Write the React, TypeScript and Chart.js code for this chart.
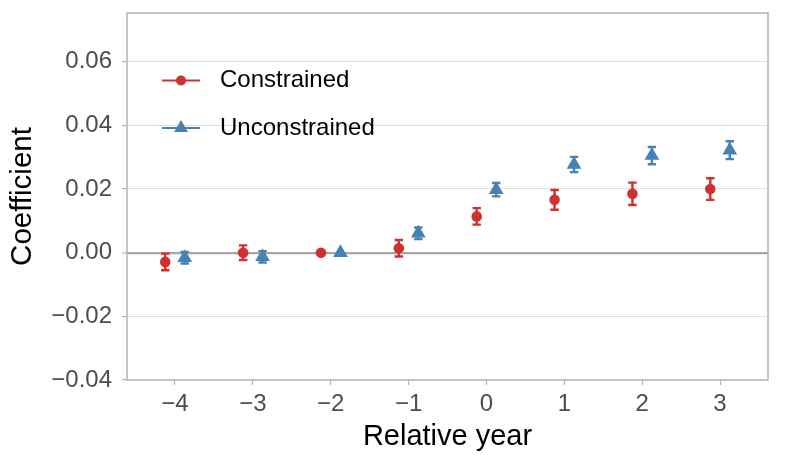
import { useEffect, useRef } from 'react';
import { Chart, registerables } from 'chart.js';

Chart.register(...registerables);

// ---- data ----
const relativeYears = [-4, -3, -2, -1, 0, 1, 2, 3];
const constrainedCoef = [-0.0029, 0.0, 0.0, 0.0014, 0.0114, 0.0166, 0.0185, 0.02];
const constrainedErr = [0.0026, 0.0023, 0.0, 0.0026, 0.0026, 0.0031, 0.0035, 0.0034];
const unconstrainedCoef = [-0.0016, -0.0013, 0.0, 0.0061, 0.0198, 0.0277, 0.0305, 0.0322];
const unconstrainedErr = [0.0018, 0.0018, 0.0, 0.0018, 0.0021, 0.0024, 0.0027, 0.0028];
const seriesLabels = ['Constrained', 'Unconstrained'];
const yTicks = [-0.04, -0.02, 0, 0.02, 0.04, 0.06];
const xTicks = [-4, -3, -2, -1, 0, 1, 2, 3];

const RED = '#D1302F';
const BLUE = '#4682B4';
const DODGE = 0.125;
const FONT = "'Liberation Sans', Arial, Helvetica, sans-serif";

const fmtY = (v: number) => (v < -1e-9 ? '\u2212' : '') + Math.abs(v).toFixed(2);
const fmtX = (v: number) => (v < 0 ? '\u2212' + Math.abs(v) : String(v));

const errorBarPlugin = {
  id: 'errorBars',
  beforeDatasetsDraw(chart: any) {
    const { ctx, scales } = chart;
    const ys = scales.y;
    const xs = scales.x;
    chart.data.datasets.forEach((ds: any) => {
      const errs: number[] = ds.errors || [];
      ctx.save();
      ctx.strokeStyle = ds.backgroundColor;
      ctx.lineWidth = 2.4;
      ds.data.forEach((p: any, i: number) => {
        const e = errs[i];
        if (!e) return;
        const px = xs.getPixelForValue(p.x);
        const top = ys.getPixelForValue(p.y + e);
        const bot = ys.getPixelForValue(p.y - e);
        const hw = 4.2;
        ctx.beginPath();
        ctx.moveTo(px, top);
        ctx.lineTo(px, bot);
        ctx.moveTo(px - hw, top);
        ctx.lineTo(px + hw, top);
        ctx.moveTo(px - hw, bot);
        ctx.lineTo(px + hw, bot);
        ctx.stroke();
      });
      ctx.restore();
    });
  },
};

const legendPlugin = {
  id: 'insideLegend',
  afterDatasetsDraw(chart: any) {
    const { ctx } = chart;
    const rows = [
      { y: 80.5, color: RED, style: 'circle', r: 5 },
      { y: 128, color: BLUE, style: 'triangle', r: 8 },
    ];
    ctx.save();
    rows.forEach((row, i) => {
      ctx.strokeStyle = row.color;
      ctx.lineWidth = 2.2;
      ctx.beginPath();
      ctx.moveTo(162, row.y);
      ctx.lineTo(200, row.y);
      ctx.stroke();
      ctx.fillStyle = row.color;
      ctx.beginPath();
      if (row.style === 'circle') {
        ctx.arc(181, row.y, row.r, 0, Math.PI * 2);
      } else {
        const r = row.r;
        ctx.moveTo(181, row.y - r);
        ctx.lineTo(181 + Math.sin((2 * Math.PI) / 3) * r, row.y - Math.cos((2 * Math.PI) / 3) * r);
        ctx.lineTo(181 + Math.sin((4 * Math.PI) / 3) * r, row.y - Math.cos((4 * Math.PI) / 3) * r);
        ctx.closePath();
      }
      ctx.fill();
      ctx.fillStyle = '#000000';
      ctx.font = `24px ${FONT}`;
      ctx.textBaseline = 'middle';
      ctx.textAlign = 'left';
      ctx.fillText(seriesLabels[i], 220, row.y);
    });
    ctx.restore();
  },
};

const borderPlugin = {
  id: 'panelBorder',
  afterDraw(chart: any) {
    const { ctx, chartArea } = chart;
    ctx.save();
    ctx.strokeStyle = '#B3B3B3';
    ctx.lineWidth = 1.5;
    ctx.strokeRect(chartArea.left, chartArea.top, chartArea.right - chartArea.left, chartArea.bottom - chartArea.top);
    ctx.restore();
  },
};

export default function App() {
  const ref = useRef<HTMLCanvasElement | null>(null);

  useEffect(() => {
    document.body.style.margin = '0';
    const canvas = ref.current;
    if (!canvas) return;
    Chart.defaults.font.family = FONT;

    const chart = new Chart(canvas, {
      type: 'scatter',
      data: {
        datasets: [
          {
            label: seriesLabels[0],
            data: relativeYears.map((x, i) => ({ x: x - DODGE, y: constrainedCoef[i] })),
            backgroundColor: RED,
            borderColor: RED,
            borderWidth: 0,
            pointStyle: 'circle',
            pointRadius: 5.3,
            pointHoverRadius: 5.3,
            errors: constrainedErr,
          } as any,
          {
            label: seriesLabels[1],
            data: relativeYears.map((x, i) => ({ x: x + DODGE, y: unconstrainedCoef[i] })),
            backgroundColor: BLUE,
            borderColor: BLUE,
            borderWidth: 0,
            pointStyle: 'triangle',
            pointRadius: 8.5,
            pointHoverRadius: 8.5,
            errors: unconstrainedErr,
          } as any,
        ],
      },
      options: {
        animation: false,
        responsive: false,
        maintainAspectRatio: false,
        layout: { padding: { top: 13, right: 17, left: 0, bottom: 0 } },
        plugins: {
          legend: { display: false },
          tooltip: { enabled: false },
        },
        scales: {
          x: {
            type: 'linear',
            min: -4.616,
            max: 3.616,
            afterBuildTicks: (scale: any) => {
              scale.ticks = xTicks.map((v) => ({ value: v }));
            },
            afterFit: (scale: any) => {
              scale.height = 89;
              scale.paddingLeft = 0;
              scale.paddingRight = 0;
            },
            border: { display: false },
            grid: {
              drawOnChartArea: false,
              drawTicks: true,
              tickLength: 5,
              tickColor: '#B3B3B3',
              tickWidth: 1.2,
            },
            ticks: {
              padding: 5,
              color: '#4D4D4D',
              font: { size: 24 },
              maxRotation: 0,
              autoSkip: false,
              callback: (v: any) => fmtX(Number(v)),
            },
            title: {
              display: true,
              text: 'Relative year',
              color: '#000000',
              font: { size: 29 },
              padding: { top: 0, bottom: 15 },
            },
          },
          y: {
            type: 'linear',
            min: -0.04,
            max: 0.0753,
            afterBuildTicks: (scale: any) => {
              scale.ticks = yTicks.map((v) => ({ value: v }));
            },
            afterFit: (scale: any) => {
              scale.width = 127;
              scale.paddingTop = 0;
              scale.paddingBottom = 0;
            },
            border: { display: false },
            grid: {
              drawOnChartArea: true,
              drawTicks: true,
              tickLength: 5,
              tickColor: '#B3B3B3',
              tickWidth: 1.2,
              color: (c: any) => {
                const v = c.tick ? c.tick.value : null;
                if (v === 0) return '#A6A6A6';
                if (v === -0.04) return 'rgba(0,0,0,0)';
                return '#DEDEDE';
              },
              lineWidth: (c: any) => (c.tick && c.tick.value === 0 ? 2.2 : 1.1),
            },
            ticks: {
              padding: 10,
              color: '#4D4D4D',
              font: { size: 24 },
              autoSkip: false,
              callback: (v: any) => fmtY(Number(v)),
            },
            title: {
              display: true,
              text: 'Coefficient',
              color: '#000000',
              font: { size: 29.5 },
              padding: { top: 5, bottom: 0 },
            },
          },
        },
      },
      plugins: [errorBarPlugin, legendPlugin, borderPlugin],
    });

    return () => chart.destroy();
  }, []);

  return (
    <div style={{ width: 785, height: 469 }}>
      <canvas ref={ref} width={785} height={469} style={{ width: 785, height: 469, display: 'block' }} />
    </div>
  );
}
